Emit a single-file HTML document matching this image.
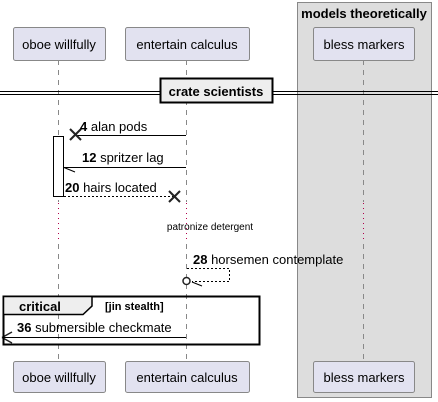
<!DOCTYPE html>
<html><head><meta charset="utf-8"><style>body{margin:0;background:#fff}svg{display:block}</style></head><body>
<svg width="438" height="402" viewBox="0 0 438 402" xmlns="http://www.w3.org/2000/svg" font-family="Liberation Sans, sans-serif">
<rect x="297.5" y="2.5" width="134" height="395" fill="#dddddd" stroke="#888" stroke-width="1"/>
<text x="364" y="18" text-anchor="middle" font-size="13" font-weight="bold">models theoretically</text>
<g stroke="#888" stroke-width="1" stroke-dasharray="5,5">
<line x1="58.5" y1="60" x2="58.5" y2="202"/><line x1="58.5" y1="244" x2="58.5" y2="361"/>
<line x1="186.5" y1="60" x2="186.5" y2="202"/><line x1="186.5" y1="244" x2="186.5" y2="361"/>
<line x1="363.5" y1="60" x2="363.5" y2="202"/><line x1="363.5" y1="244" x2="363.5" y2="361"/>
</g>
<g stroke="#b0004a" stroke-width="1" stroke-dasharray="1,4">
<line x1="58.5" y1="203" x2="58.5" y2="243"/><line x1="186.5" y1="203" x2="186.5" y2="243"/><line x1="363.5" y1="203" x2="363.5" y2="243"/>
</g>
<g fill="#e2e2f0" stroke="#888" stroke-width="1">
<rect x="13.5" y="27.5" width="92" height="33" rx="2"/><rect x="125.5" y="27.5" width="124" height="33" rx="2"/><rect x="313.5" y="27.5" width="101" height="33" rx="2"/>
<rect x="13.5" y="361.5" width="92" height="31" rx="2"/><rect x="125.5" y="361.5" width="124" height="31" rx="2"/><rect x="313.5" y="361.5" width="101" height="31" rx="2"/>
</g>
<g font-size="13" text-anchor="middle" fill="#000">
<text x="59" y="49">oboe willfully</text><text x="187" y="49">entertain calculus</text><text x="364" y="49">bless markers</text>
<text x="59" y="382">oboe willfully</text><text x="187" y="382">entertain calculus</text><text x="364" y="382">bless markers</text>
</g>
<line x1="0" y1="91.5" x2="438" y2="91.5" stroke="#000"/><line x1="0" y1="94.5" x2="438" y2="94.5" stroke="#000"/>
<rect x="160.5" y="78.5" width="112" height="24" fill="#eee" stroke="#000" stroke-width="2"/>
<text x="216" y="96" text-anchor="middle" font-size="13" font-weight="bold">crate scientists</text>
<rect x="53.5" y="136.5" width="10" height="60" fill="#fff" stroke="#000"/>
<g stroke="#000" stroke-width="1">
<line x1="76" y1="135.5" x2="186" y2="135.5"/>
<line x1="63" y1="167.5" x2="186" y2="167.5"/>
<line x1="64" y1="167.5" x2="75" y2="172"/>
<line x1="64" y1="196.5" x2="174" y2="196.5" stroke-dasharray="2,2"/>
<polyline points="187,268.5 229.5,268.5 229.5,281.5 192,281.5" fill="none" stroke-dasharray="2,2"/>
<line x1="192" y1="282" x2="202" y2="286"/>
<line x1="2" y1="337.5" x2="186" y2="337.5"/>
</g>
<g stroke="#222" stroke-width="2">
<line x1="70" y1="129" x2="81" y2="140"/><line x1="81" y1="129" x2="70" y2="140"/>
<line x1="169" y1="191" x2="180" y2="202"/><line x1="180" y1="191" x2="169" y2="202"/>
</g>
<circle cx="186.5" cy="281" r="3.5" fill="#fff" stroke="#222" stroke-width="1.5"/>
<path d="M2,337.5 L12,332 M2,337.5 L12,343" stroke="#222" stroke-width="1.5"/>
<g font-size="13">
<text x="80" y="131"><tspan font-weight="bold">4</tspan> alan pods</text>
<text x="82" y="162"><tspan font-weight="bold">12</tspan> spritzer lag</text>
<text x="65" y="192"><tspan font-weight="bold">20</tspan> hairs located</text>
<text x="193" y="264"><tspan font-weight="bold">28</tspan> horsemen contemplate</text>
<text x="17" y="332"><tspan font-weight="bold">36</tspan> submersible checkmate</text>
</g>
<text x="210" y="230" text-anchor="middle" font-size="10">patronize detergent</text>
<rect x="3.5" y="296.5" width="256" height="48" fill="none" stroke="#000" stroke-width="2"/>
<path d="M3.5,296.5 L92,296.5 L92,306 L83,314.5 L3.5,314.5 Z" fill="#eee" stroke="#000" stroke-width="1.5"/>
<text x="19" y="311" font-size="13" font-weight="bold">critical</text>
<text x="105" y="310" font-size="11" font-weight="bold">[jin stealth]</text>
</svg>
</body></html>
